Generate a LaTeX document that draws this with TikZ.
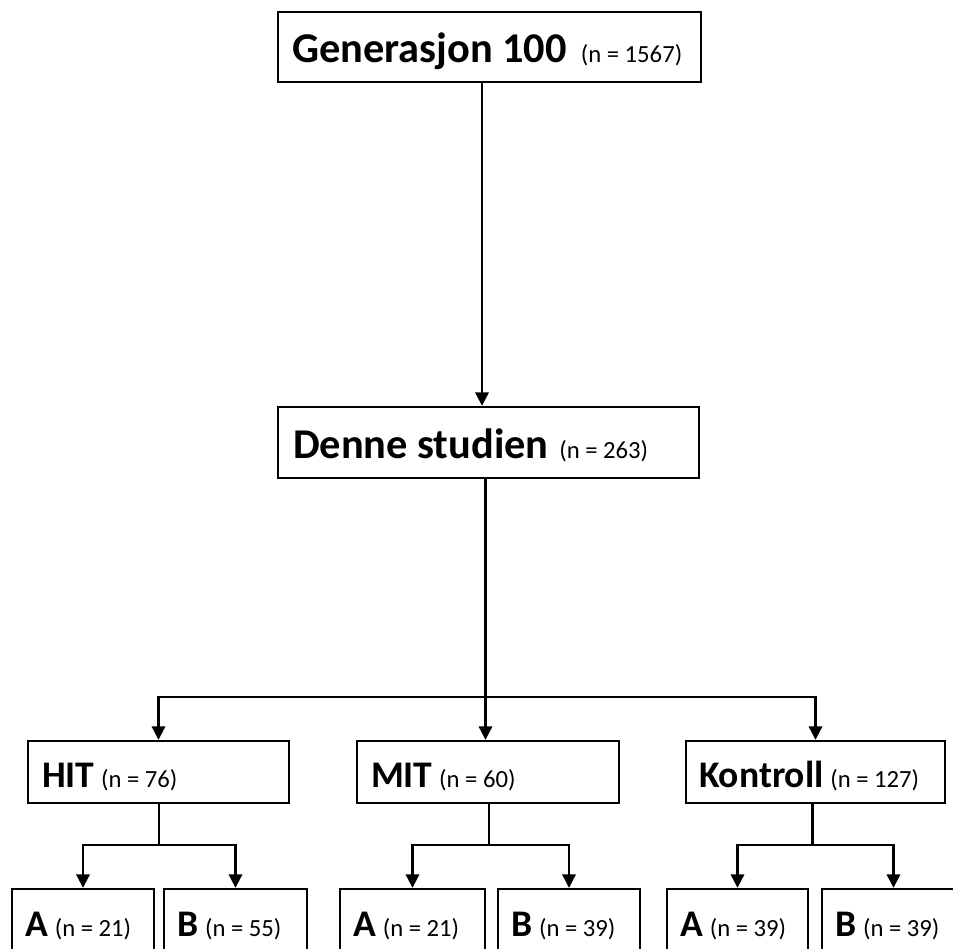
\documentclass[tikz,border=0pt]{standalone}
\usepackage{fontspec}
\setmainfont{Carlito}
\usetikzlibrary{arrows.meta}
\newcommand\glab[5]{\makebox[#1][l]{\fontsize{#2}{#2}\selectfont\textbf{#3}\hspace{#4}\fontsize{18.5pt}{19pt}\selectfont #5}}
\tikzset{
  box/.style={draw, line width=1.8pt, rectangle, inner ysep=0pt, text depth=0pt, anchor=center},
  lvltop/.style={box, minimum height=52.5pt, text height=24pt, inner xsep=10.5pt},
  lvlmid/.style={box, minimum height=53.25pt, text height=23.25pt, inner xsep=11.25pt},
  lvlgrp/.style={box, minimum height=46.5pt, text height=22.5pt, inner xsep=10.5pt},
  lvlsub/.style={box, minimum height=64.5pt, text height=6pt, inner xsep=10pt},
  conn/.style={line width=1.6pt},
  arr/.style={line width=1.6pt, -{Triangle[length=10pt,width=10pt]}}
}
\begin{document}
\begin{tikzpicture}[x=0.75pt,y=-0.75pt]
\useasboundingbox (0,0) rectangle (953,949);
\fill[white] (0,0) rectangle (953,949);
\clip (0,0) rectangle (953,949);

% top level
\node[lvltop, minimum width=317.25pt] (gen) at (489.5,47)
  {\glab{296.25pt}{31.8pt}{Generasjon 100}{10.5pt}{(n = 1567)}};
\node[lvlmid, minimum width=315.75pt] (mid) at (488.5,442.5)
  {\glab{293.25pt}{31.8pt}{Denne studien}{8pt}{(n = 263)}};

% groups
\node[lvlgrp, minimum width=195.75pt] (hit) at (158.5,772)
  {\glab{174.75pt}{28.2pt}{HIT}{5pt}{(n = 76)}};
\node[lvlgrp, minimum width=196.5pt] (mit) at (488,772)
  {\glab{175.5pt}{28.2pt}{MIT}{5pt}{(n = 60)}};
\node[lvlgrp, minimum width=194.25pt, inner xsep=9.75pt] (kon) at (815.5,772)
  {\glab{174.75pt}{28.2pt}{Kontroll}{5pt}{(n = 127)}};

% subgroups
\node[lvlsub, minimum width=106.5pt] (a1) at (83,932)
  {\glab{86.5pt}{28.2pt}{A}{5pt}{(n = 21)}};
\node[lvlsub, minimum width=107.25pt] (b1) at (235.5,932)
  {\glab{87.25pt}{28.2pt}{B}{5pt}{(n = 55)}};
\node[lvlsub, minimum width=108.75pt] (a2) at (412.5,932)
  {\glab{88.75pt}{28.2pt}{A}{5pt}{(n = 21)}};
\node[lvlsub, minimum width=106.5pt] (b2) at (569,932)
  {\glab{86.5pt}{28.2pt}{B}{5pt}{(n = 39)}};
\node[lvlsub, minimum width=105.75pt] (a3) at (737.5,932)
  {\glab{85.75pt}{28.2pt}{A}{5pt}{(n = 39)}};
\node[lvlsub, minimum width=107.25pt] (b3) at (893.5,932)
  {\glab{87.25pt}{28.2pt}{B}{5pt}{(n = 39)}};

% connectors
\coordinate (tx) at (482,0);
\draw[arr] (gen.south -| tx) -- (mid.north -| tx);

\coordinate (j1) at (485.5,697);
\draw[conn] (mid.south -| j1) -- (j1);
\draw[arr] (j1) -| (hit.north);
\draw[arr] (j1) -- (mit.north -| j1);
\draw[arr] (j1) -| (kon.north);

\coordinate (j2) at (159,845);
\draw[conn] (hit.south -| j2) -- (j2);
\draw[arr] (j2) -| (a1.north);
\draw[arr] (j2) -| (b1.north);

\coordinate (j3) at (489,845);
\draw[conn] (mit.south -| j3) -- (j3);
\draw[arr] (j3) -| (a2.north);
\draw[arr] (j3) -| (b2.north);

\coordinate (j4) at (812.5,845);
\draw[conn] (kon.south -| j4) -- (j4);
\draw[arr] (j4) -| (a3.north);
\draw[arr] (j4) -| (b3.north);
\end{tikzpicture}
\end{document}
